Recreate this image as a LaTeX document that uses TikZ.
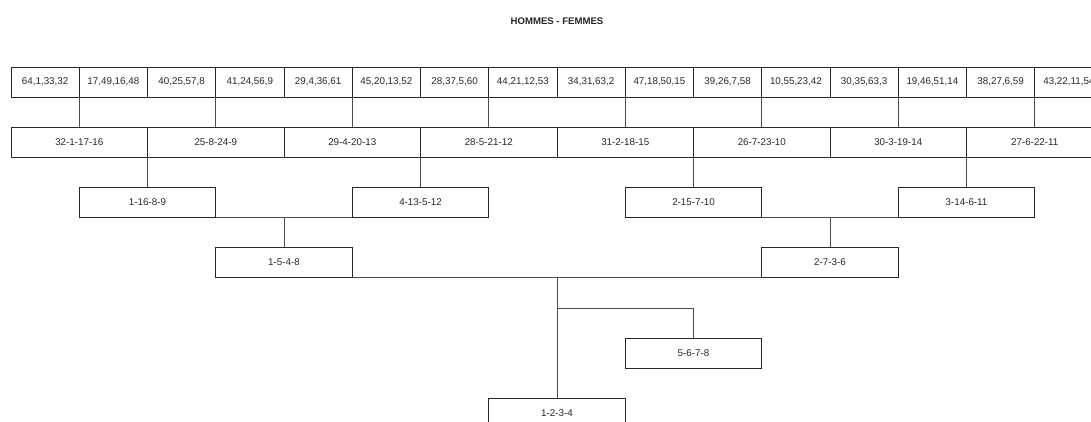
\documentclass[tikz,border=0pt]{standalone}
\usepackage{fontspec}
\setmainfont{Liberation Sans}
\begin{document}
\begin{tikzpicture}[x=1pt,y=-1pt,
  box/.style={draw=black!85,line width=0.9pt,inner sep=0pt,outer sep=0pt,minimum height=30pt,font=\fontsize{9.8}{11}\selectfont,text=black!85},
  sbox/.style={box,minimum width=68.25pt},
  mbox/.style={box,minimum width=136.5pt},
  link/.style={draw=black!70,line width=0.9pt}]
\useasboundingbox (0,0) rectangle (1091,421);
\clip (0,0) rectangle (1091,421);
\node[font=\bfseries\fontsize{9.6}{11}\selectfont,text=black!85] (title) at (557,21) {HOMMES - FEMMES};
% top row
\node[sbox] (t1)  at (45.125,82) {64,1,33,32};
\node[sbox] (t2)  at (113.375,82) {17,49,16,48};
\node[sbox] (t3)  at (181.625,82) {40,25,57,8};
\node[sbox] (t4)  at (249.875,82) {41,24,56,9};
\node[sbox] (t5)  at (318.125,82) {29,4,36,61};
\node[sbox] (t6)  at (386.375,82) {45,20,13,52};
\node[sbox] (t7)  at (454.625,82) {28,37,5,60};
\node[sbox] (t8)  at (522.875,82) {44,21,12,53};
\node[sbox] (t9)  at (591.125,82) {34,31,63,2};
\node[sbox] (t10) at (659.375,82) {47,18,50,15};
\node[sbox] (t11) at (727.625,82) {39,26,7,58};
\node[sbox] (t12) at (795.875,82) {10,55,23,42};
\node[sbox] (t13) at (864.125,82) {30,35,63,3};
\node[sbox] (t14) at (932.375,82) {19,46,51,14};
\node[sbox] (t15) at (1000.625,82) {38,27,6,59};
\node[sbox] (t16) at (1068.875,82) {43,22,11,54};
% second row
\node[mbox] (s1) at (79.25,142) {32-1-17-16};
\node[mbox] (s2) at (215.75,142) {25-8-24-9};
\node[mbox] (s3) at (352.25,142) {29-4-20-13};
\node[mbox] (s4) at (488.75,142) {28-5-21-12};
\node[mbox] (s5) at (625.25,142) {31-2-18-15};
\node[mbox] (s6) at (761.75,142) {26-7-23-10};
\node[mbox] (s7) at (898.25,142) {30-3-19-14};
\node[mbox] (s8) at (1034.75,142) {27-6-22-11};
\foreach \i/\j in {1/1,3/2,5/3,7/4,9/5,11/6,13/7,15/8}
  \draw[link] (t\i.south east) -- (s\j.north);
% third row
\node[mbox] (r1) at (147.5,202) {1-16-8-9};
\node[mbox] (r2) at (420.5,202) {4-13-5-12};
\node[mbox] (r3) at (693.5,202) {2-15-7-10};
\node[mbox] (r4) at (966.5,202) {3-14-6-11};
\draw[link] (s1.south east) -- (r1.north);
\draw[link] (s3.south east) -- (r2.north);
\draw[link] (s5.south east) -- (r3.north);
\draw[link] (s7.south east) -- (r4.north);
% fourth row
\node[mbox] (q1) at (284,262) {1-5-4-8};
\node[mbox] (q2) at (830,262) {2-7-3-6};
\draw[link] (r1.south east) -- (r2.south west);
\draw[link] (r3.south east) -- (r4.south west);
\draw[link] (q1.north) -- (q1.north |- r1.south);
\draw[link] (q2.north) -- (q2.north |- r3.south);
% bottom
\node[mbox] (p) at (693.5,353) {5-6-7-8};
\node[mbox] (root) at (557,413) {1-2-3-4};
\draw[link] (q1.south east) -- (q2.south west);
\coordinate (fork) at (557,308);
\draw[link] (root.north) -- (root.north |- q1.south);
\draw[link] (fork) -- (fork -| p.north) -- (p.north);
\end{tikzpicture}
\end{document}
